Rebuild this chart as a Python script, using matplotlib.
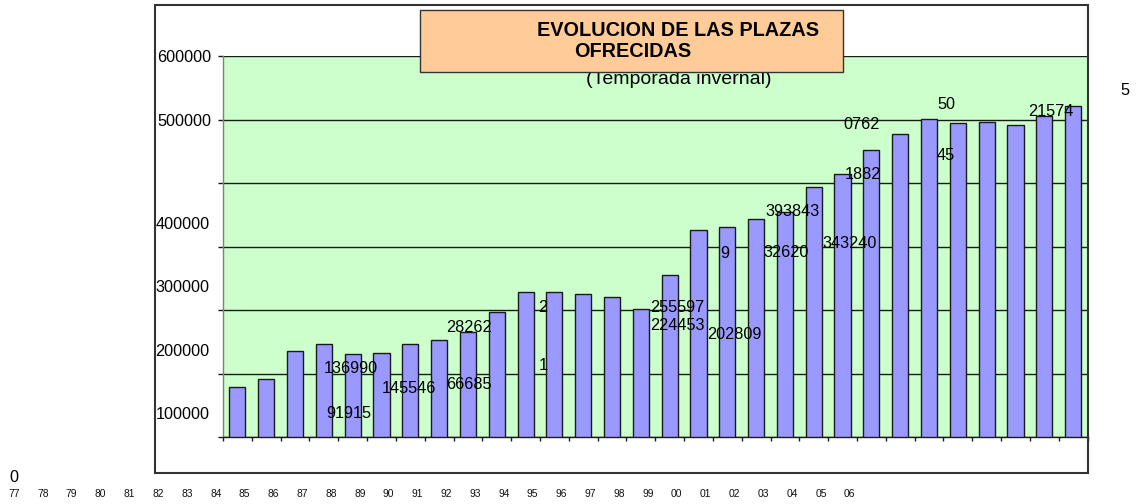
import matplotlib
matplotlib.use("Agg")
import matplotlib.pyplot as plt
from matplotlib.patches import Rectangle
from matplotlib import transforms
import numpy as np

plt.rcParams['font.family'] = ['Liberation Sans', 'DejaVu Sans']

# ---- data ----
years = ["77", "78", "79", "80", "81", "82", "83", "84", "85", "86",
         "87", "88", "89", "90", "91", "92", "93", "94", "95", "96",
         "97", "98", "99", "00", "01", "02", "03", "04", "05", "06"]
plazas = [79200, 92300, 136400, 146500, 131200, 133200, 146500, 153700, 166300, 197800,
          228300, 228300, 225200, 220900, 201600, 255597, 326000, 330700, 343240, 355300,
          393843, 414200, 452000, 477200, 500800, 494500, 496100, 492300, 505500, 521574]
y_ticks = [0, 100000, 200000, 300000, 400000, 500000, 600000]
y_tick_labels = ["0", "100000", "200000", "300000", "400000", "500000", "600000"]

# stray data labels of the original (text, category position, value position)
stray_text = ["136990", "91915", "145546", "66685", "28262", "2", "1",
              "255597", "224453", "202809", "9", "393843", "32620", "343240",
              "1882", "0762", "50", "45", "21574", "5"]
stray_x = [3.94, 3.85, 5.95, 8.03, 8.03, 10.60, 10.60,
           15.28, 15.28, 17.25, 16.91, 19.28, 19.04, 21.26,
           21.69, 21.66, 24.59, 24.59, 28.24, 30.80]
stray_y = [100800, 30400, 69300, 75600, 166300, 197800, 106000,
           197800, 169000, 154300, 281900, 349000, 283500, 297600,
           406800, 485500, 517000, 436700, 506000, 539100]

title_l1 = "EVOLUCION DE LAS PLAZAS"
title_l2 = "OFRECIDAS"
subtitle = "(Temporada invernal)"

# ---- figure ----
W, H = 1142, 504
fig = plt.figure(figsize=(W / 100, H / 100), dpi=100)
fx = lambda px: px / W
fy = lambda py: 1 - py / H

ax_l, ax_r, ax_t, ax_b = 223, 1087.5, 56.3, 437.3
ax = fig.add_axes([fx(ax_l), fy(ax_b), fx(ax_r - ax_l), (ax_b - ax_t) / H])
ax.set_facecolor('#CCFFCC')

x = np.arange(len(years))
ax.bar(x, plazas, width=0.56, color='#9999FF', edgecolor='#1a1a1a', linewidth=1.0, zorder=3)
ax.set_xlim(-0.5, len(years) - 0.5)
ax.set_ylim(0, 600000)

ax.set_yticks(y_ticks)
ax.set_yticklabels([])
ax.yaxis.grid(True, color='#1a1a1a', linewidth=1.0)
ax.set_axisbelow(True)
ax.tick_params(axis='y', direction='out', length=3.6, width=1.0, color='#1a1a1a')

ax.set_xticks([])
ax.set_xticks(np.arange(-0.5, len(years)), minor=True)
ax.tick_params(axis='x', which='minor', direction='out', length=3, width=1.0, color='#1a1a1a')
ax.tick_params(axis='x', which='major', length=0)

for s in ['top', 'right']:
    ax.spines[s].set_visible(False)
ax.spines['left'].set_color('#808080')
ax.spines['left'].set_linewidth(1.0)
ax.spines['bottom'].set_color('#1a1a1a')
ax.spines['bottom'].set_linewidth(1.0)

fs = 11.7
# y tick labels: upper two aligned, lower ones displaced downward in the original
for v, lab in zip(y_ticks, y_tick_labels):
    if v >= 500000:
        tr = transforms.blended_transform_factory(ax.transAxes, ax.transData) + \
            transforms.ScaledTranslation(-12 / 100, 0, fig.dpi_scale_trans)
        ax.text(0, v, lab, transform=tr, ha='right', va='center_baseline', fontsize=fs, clip_on=False)
    elif v > 0:
        tr = transforms.blended_transform_factory(ax.transAxes, ax.transData) + \
            transforms.ScaledTranslation(-13.5 / 100, -39.4 / 100, fig.dpi_scale_trans)
        ax.text(0, v, lab, transform=tr, ha='right', va='center_baseline', fontsize=fs, clip_on=False)
    else:
        fig.text(fx(18.5), fy(482), lab, ha='right', va='baseline', fontsize=fs)

# x labels displaced to the left, below the frame
xtr = transforms.blended_transform_factory(ax.transData, fig.transFigure) + \
    transforms.ScaledTranslation(-223.4 / 100, 0, fig.dpi_scale_trans)
for i, lab in enumerate(years):
    ax.text(i, fy(496.8), lab, transform=xtr, ha='center', va='baseline',
            fontsize=7.4, color='#111111', clip_on=False)

# stray data labels
for t, sx, sy in zip(stray_text, stray_x, stray_y):
    ax.text(sx, sy, t, ha='center', va='baseline', fontsize=fs, zorder=5, clip_on=False)

# outer chart frame
fig.patches.append(Rectangle((fx(155), fy(473.3)), fx(1088 - 155), (473.3 - 5) / H,
                             transform=fig.transFigure, fill=False, edgecolor='#333333',
                             linewidth=1.5, zorder=1.5))

# subtitle (partly hidden by the title box)
fig.text(fx(679), fy(83.5), subtitle, ha='center', va='baseline', fontsize=14, zorder=1)

# title box
fig.patches.append(Rectangle((fx(420), fy(71.7)), fx(842.7 - 420), (71.7 - 10.3) / H,
                             transform=fig.transFigure, facecolor='#FFCC99', edgecolor='#333333',
                             linewidth=1.0, zorder=2))
fig.text(fx(536.7), fy(35.7), title_l1, ha='left', va='baseline', fontsize=14.3,
         fontweight='bold', zorder=3)
fig.text(fx(574), fy(57.3), title_l2, ha='left', va='baseline', fontsize=14.3,
         fontweight='bold', zorder=3)

fig.savefig('out.png', dpi=100)
